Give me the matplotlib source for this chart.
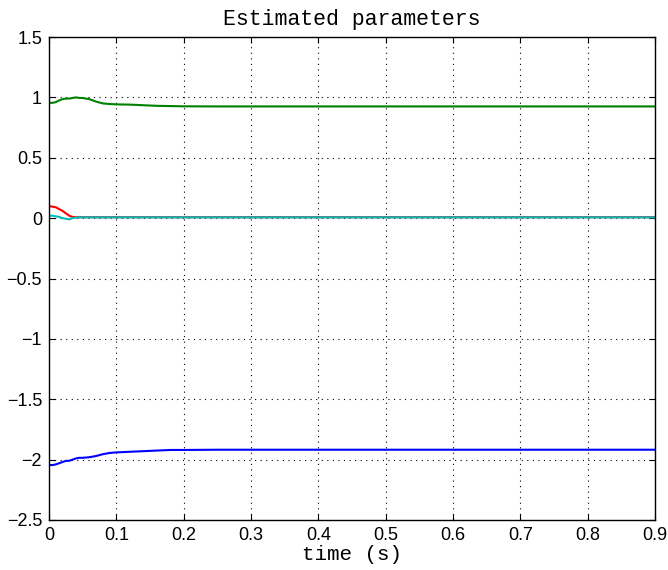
import matplotlib
matplotlib.use("Agg")
import matplotlib.pyplot as plt

# time samples (s)
t = [0.0, 0.005, 0.01, 0.015, 0.02, 0.025, 0.03, 0.035, 0.04, 0.045, 0.05, 0.06, 0.07, 0.08, 0.09,
     0.1, 0.12, 0.14, 0.16, 0.18, 0.2, 0.25, 0.3, 0.4, 0.5, 0.6, 0.7, 0.8, 0.9]

green = [0.955, 0.955, 0.96, 0.975, 0.985, 0.99, 0.99, 0.995, 1.0, 0.995, 0.995, 0.985, 0.965, 0.95, 0.945,
         0.942, 0.94, 0.935, 0.93, 0.928, 0.926, 0.925, 0.925, 0.925, 0.925, 0.925, 0.925, 0.925, 0.925]
red = [0.10, 0.095, 0.09, 0.075, 0.06, 0.04, 0.02, 0.01, 0.008, 0.008, 0.008, 0.008, 0.008, 0.008, 0.008,
       0.008, 0.008, 0.008, 0.008, 0.008, 0.008, 0.008, 0.008, 0.008, 0.008, 0.008, 0.008, 0.008, 0.008]
cyan = [0.02, 0.02, 0.015, 0.01, 0.0, -0.005, -0.01, 0.0, 0.005, 0.006, 0.006, 0.006, 0.006, 0.006, 0.006,
        0.006, 0.006, 0.006, 0.006, 0.006, 0.006, 0.006, 0.006, 0.006, 0.006, 0.006, 0.006, 0.006, 0.006]
blue = [-2.045, -2.045, -2.04, -2.03, -2.02, -2.01, -2.01, -2.0, -1.99, -1.985, -1.985, -1.98, -1.97, -1.955, -1.945,
        -1.94, -1.935, -1.93, -1.925, -1.92, -1.92, -1.918, -1.918, -1.918, -1.918, -1.918, -1.918, -1.918, -1.918]

xticks = [0, 0.1, 0.2, 0.3, 0.4, 0.5, 0.6, 0.7, 0.8, 0.9]
xticklabels = ["0", "0.1", "0.2", "0.3", "0.4", "0.5", "0.6", "0.7", "0.8", "0.9"]
yticks = [-2.5, -2, -1.5, -1, -0.5, 0, 0.5, 1, 1.5]
yticklabels = ["\u22122.5", "\u22122", "\u22121.5", "\u22121", "\u22120.5", "0", "0.5", "1", "1.5"]

fig = plt.figure(figsize=(6.68, 5.70), dpi=100)
ax = fig.add_axes([49/668, 50/570, 606/668, 483/570])

ax.plot(t, green, color="#008000", lw=1.5)
ax.plot(t, red, color="#ff0000", lw=1.5)
ax.plot(t, cyan, color="#00bfbf", lw=1.5)
ax.plot(t, blue, color="#0000ff", lw=1.5)

ax.set_xlim(0, 0.9)
ax.set_ylim(-2.5, 1.5)
ax.set_xticks(xticks)
ax.set_xticklabels(xticklabels, family="Liberation Sans", fontsize=13)
ax.set_yticks(yticks)
ax.set_yticklabels(yticklabels, family="Liberation Sans", fontsize=13)
ax.tick_params(direction="in", top=True, right=True, length=4, width=0.8, pad=5)
ax.grid(True, color="black", linestyle=(0, (1, 4)), linewidth=0.8)
for s in ax.spines.values():
    s.set_linewidth(1.0)

ax.set_title("Estimated parameters", family="Liberation Mono", fontsize=15.5, pad=9)
ax.set_xlabel("time (s)", family="Liberation Mono", fontsize=15, labelpad=1)

fig.savefig("out.png", dpi=100)
